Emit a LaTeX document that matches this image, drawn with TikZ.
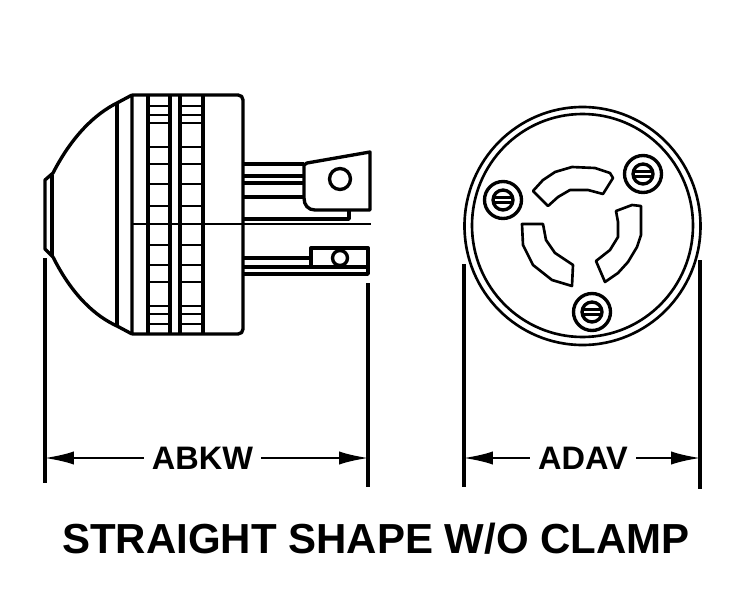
\documentclass[tikz,border=0pt]{standalone}
\usepackage{fontspec}
\setmainfont{Liberation Sans}
\usetikzlibrary{arrows.meta}
\begin{document}
\begin{tikzpicture}[x=0.02cm,y=-0.02cm,line join=round,
 part/.style={draw, line width=1.9pt},
 thin part/.style={draw, line width=1.5pt},
 ext/.style={draw, line width=1.8pt},
 dim/.style={draw, line width=1.6pt, -{Latex[length=17pt,width=7.5pt]}},
 size/.style={font=\bfseries\fontsize{18.5}{20}\selectfont, inner sep=4.5pt},
 caption/.style={font=\bfseries\fontsize{23.9}{25}\selectfont, inner sep=0pt}]

 \useasboundingbox (0,0) rectangle (748,612);

 % dome and nose
 \draw[part] (132,95) -- (117,103) .. controls (95,114) and (72,136) .. (53,173)
 -- (45,180) -- (45,249) -- (53,257)
 .. controls (72,295) and (95,316) .. (117,326) -- (132,334);
 \draw[part] (52,175) -- (52,256);
 \draw[part] (117,103) -- (117,326);

 % body
 \draw[part] (132,95) -- (238,95) .. controls (241,95) and (243,97) .. (243,100) -- (243,329)
 .. controls (243,332) and (241,334) .. (238,334) -- (132,334) -- cycle;
 \foreach \xa in {148,170,180,203}
 \draw[part] (\xa,95) -- (\xa,334);
 \foreach \ya in {106,115,123,147,164,184,206,245,265,282,306,314,324} {
 \draw[thin part] (148,\ya) -- (170,\ya);
 \draw[thin part] (180,\ya) -- (203,\ya);
 }
 % center line
 \draw[thin part] (132,224) -- (371,224);

 % upper blade
 \foreach \ya in {164,176,183,197}
 \draw[part] (243,\ya) -- (304,\ya);
 \draw[part] (307,163) -- (370,152) -- (370,210) -- (315,210)
 .. controls (308,210) and (304,205) .. (304,198) -- (304,165) -- cycle;
 \draw[part] (340,179) circle (10.5);
 \draw[part] (243,219) -- (349,219) -- (349,210);

 % lower blade
 \draw[part] (243,258) -- (311,258);
 \draw[part] (311,267) -- (311,248) -- (368,248) -- (368,274) -- (243,274);
 \draw[part] (243,267) -- (368,267);
 \draw[part] (340,258) circle (7.5);

 % face
 \draw[thin part] (582.5,226) ellipse (118 and 119);
 \draw[thin part] (582.5,225.5) ellipse (110.5 and 111.5);

 % screws
 \foreach \xa/\ya in {643/174,503/200,592/312} {
 \draw[part] (\xa,\ya) circle (18.5);
 \draw[part] (\xa,\ya) circle (10);
 \draw[thin part] (\xa-10,\ya-2.5) -- (\xa+10,\ya-2.5);
 \draw[thin part] (\xa-10,\ya+2.5) -- (\xa+10,\ya+2.5);
 }

 % slots
 \draw[thin part] (533,191) -- (548,206) -- (558,197) -- (570,190) -- (588,190)
 -- (603,194) -- (613,178) -- (610,173) -- (595,168) -- (572,167) -- (555,172)
 -- (543,180) -- cycle;
 \draw[thin part] (616,211) -- (632,205) -- (641,206) -- (641,235) -- (637,247)
 -- (628,262) -- (618,273) -- (605,282) -- (596,261) -- (610,250) -- (618,237)
 -- (618,222) -- cycle;
 \draw[thin part] (522,224) -- (543,224) -- (546,240) -- (555,253) -- (573,265)
 -- (572,286) -- (552,280) -- (533,265) -- (523,245) -- cycle;

 % extension lines
 \coordinate (abkwl) at (44,458);
 \coordinate (abkwr) at (369,458);
 \coordinate (adavl) at (463,458);
 \coordinate (adavr) at (701,458);
 \draw[ext] (45,258) -- (45,483);
 \draw[ext] (368,283) -- (368,487);
 \draw[ext] (464,264) -- (464,487);
 \draw[ext] (700,260) -- (700,489);

 % sizes
 \node[size] (abkw) at (202.5,458) {ABKW};
 \node[size] (adav) at (583,458) {ADAV};
 \draw[dim] (abkw) -- (abkwl);
 \draw[dim] (abkw) -- (abkwr);
 \draw[dim] (adav) -- (adavl);
 \draw[dim] (adav) -- (adavr);

 \node[caption] (title) at (376,539) {STRAIGHT SHAPE W/O CLAMP};
\end{tikzpicture}
\end{document}
